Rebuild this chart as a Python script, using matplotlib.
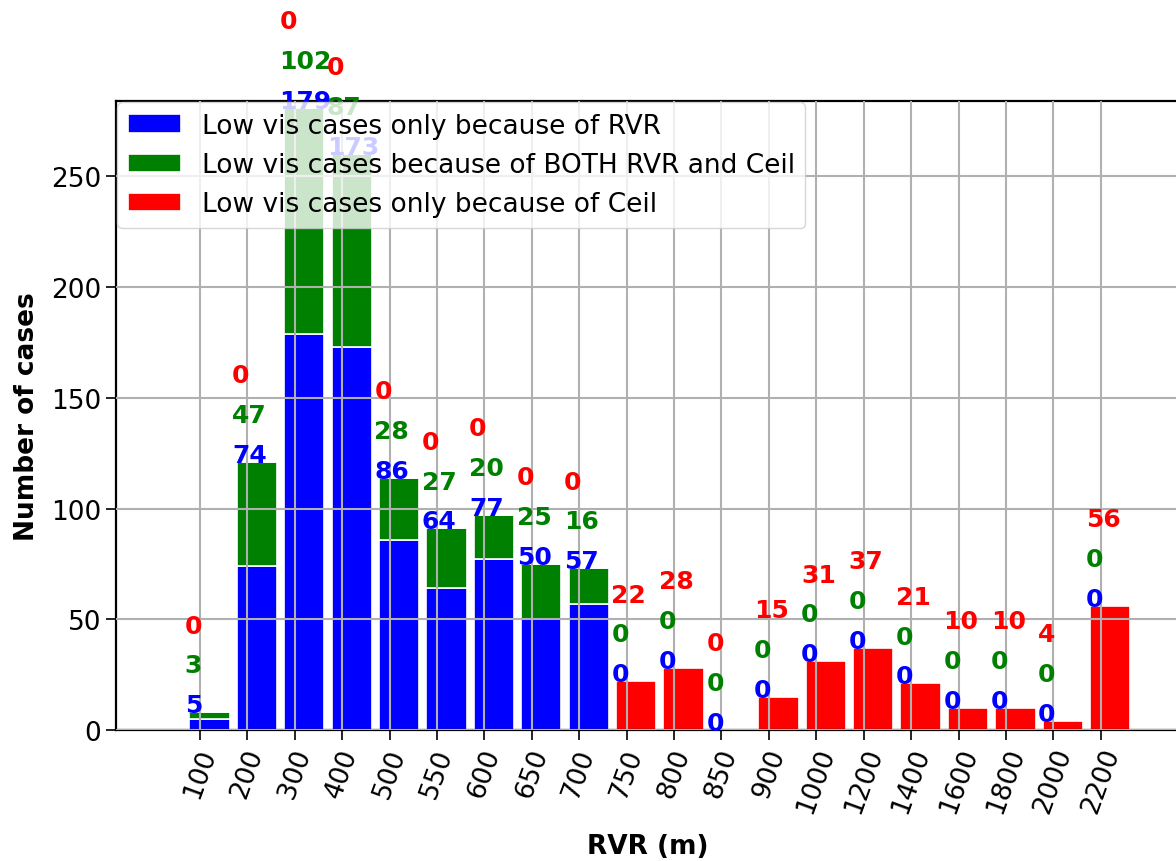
import matplotlib
matplotlib.use("Agg")
import matplotlib.pyplot as plt
import numpy as np

categories = ["100", "200", "300", "400", "500", "550", "600", "650", "700", "750",
              "800", "850", "900", "1000", "1200", "1400", "1600", "1800", "2000", "2200"]
rvr_only = [5, 74, 179, 173, 86, 64, 77, 50, 57, 0, 0, 0, 0, 0, 0, 0, 0, 0, 0, 0]
both = [3, 47, 102, 87, 28, 27, 20, 25, 16, 0, 0, 0, 0, 0, 0, 0, 0, 0, 0, 0]
ceil_only = [0, 0, 0, 0, 0, 0, 0, 0, 0, 22, 28, 0, 15, 31, 37, 21, 10, 10, 4, 56]

fig = plt.figure(figsize=(11.76, 8.62), dpi=100)
ax = fig.add_axes([116/1176, 1 - 731/862, (1180-116)/1176, (731-102)/862])

x = np.arange(len(categories))
b = np.array(rvr_only)
g = np.array(both)
r = np.array(ceil_only)

ax.bar(x + 0.2, b, width=0.85, color="blue", edgecolor="white", linewidth=1.2,
       label="Low vis cases only because of RVR")
ax.bar(x + 0.2, g, width=0.85, bottom=b, color="green", edgecolor="white", linewidth=1.2,
       label="Low vis cases because of BOTH RVR and Ceil")
ax.bar(x + 0.2, r, width=0.85, bottom=b + g, color="red", edgecolor="white", linewidth=1.2,
       label="Low vis cases only because of Ceil")

tot = b + g + r
for i in range(len(categories)):
    ax.text(x[i] - 0.32, tot[i], str(b[i]), color="blue", fontsize=18, fontweight="bold",
            ha="left", va="baseline", clip_on=False)
    ax.text(x[i] - 0.32, tot[i] + 18, str(g[i]), color="green", fontsize=18, fontweight="bold",
            ha="left", va="baseline", clip_on=False)
    ax.text(x[i] - 0.32, tot[i] + 36, str(r[i]), color="red", fontsize=18, fontweight="bold",
            ha="left", va="baseline", clip_on=False)

ax.set_xlim(-1.77, 20.67)
ax.set_ylim(0, 284)
ax.set_xticks(x)
ax.set_xticklabels(categories, rotation=70, fontsize=19)
ax.set_yticks([0, 50, 100, 150, 200, 250])
ax.tick_params(axis="y", labelsize=19)
ax.tick_params(axis="both", width=1.2, length=7)
ax.grid(True, color="#b0b0b0", linewidth=1.5)
ax.set_axisbelow(False)
for s in ax.spines.values():
    s.set_linewidth(1.6)

ax.set_xlabel("RVR (m)", fontsize=19, fontweight="bold", labelpad=12)
ax.set_ylabel("Number of cases", fontsize=19, fontweight="bold", labelpad=8)
ax.legend(loc="upper left", fontsize=19, borderaxespad=0.05)

fig.savefig("out.png", dpi=100)
